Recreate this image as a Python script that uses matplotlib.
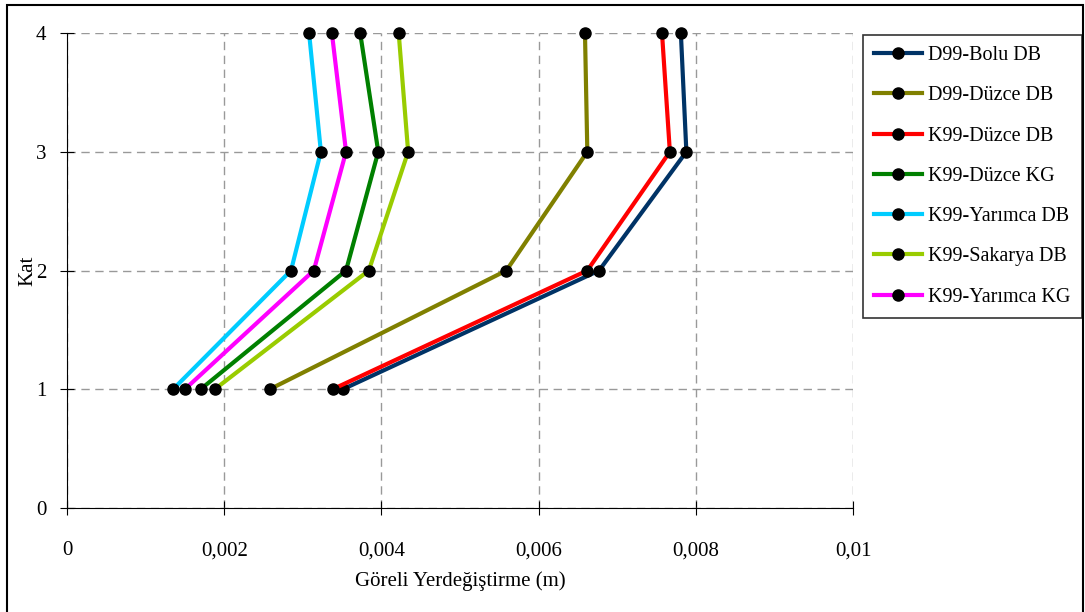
import numpy as np
import matplotlib.pyplot as plt
from matplotlib.patches import Rectangle

plt.rcParams['font.family'] = ['Liberation Serif', 'DejaVu Serif']

kat = [1, 2, 3, 4]

d99_bolu_db = [0.00351, 0.00677, 0.00788, 0.00781]
d99_duzce_db = [0.00258, 0.00559, 0.00662, 0.00659]
k99_duzce_db = [0.00338, 0.00662, 0.00767, 0.00757]
k99_duzce_kg = [0.00170, 0.00355, 0.00396, 0.00373]
k99_yarimca_db = [0.00135, 0.00285, 0.00323, 0.00308]
k99_sakarya_db = [0.00188, 0.00384, 0.00434, 0.00422]
k99_yarimca_kg = [0.00150, 0.00314, 0.00355, 0.00337]

series = [
    ("D99-Bolu DB", d99_bolu_db, "#003366"),
    ("D99-Düzce DB", d99_duzce_db, "#808000"),
    ("K99-Düzce DB", k99_duzce_db, "#FF0000"),
    ("K99-Düzce KG", k99_duzce_kg, "#008000"),
    ("K99-Yarımca DB", k99_yarimca_db, "#00CCFF"),
    ("K99-Sakarya DB", k99_sakarya_db, "#99CC00"),
    ("K99-Yarımca KG", k99_yarimca_kg, "#FF00FF"),
]

x_ticks = [0, 0.002, 0.004, 0.006, 0.008, 0.01]
x_tick_labels = ["0", "0,002", "0,004", "0,006", "0,008", "0,01"]

fig = plt.figure(figsize=(10.85, 6.12), dpi=100)
ax = fig.add_axes([67/1085, (612-508)/612, (853-67)/1085, (508-33)/612])

for name, vals, col in series:
    ax.plot(vals, kat, color=col, lw=3, marker='o', ms=8,
            mfc='black', mec='black', label=name, clip_on=False, zorder=3)

ax.set_xlim(0, 0.01)
ax.set_ylim(0, 4)
ax.set_xticks(x_ticks)
ax.set_xticklabels(x_tick_labels)
ax.set_yticks([0, 1, 2, 3, 4])
ax.grid(True, color='#999999', linestyle=(0, (6, 4)), lw=1)
ax.set_axisbelow(True)
for s in ['top', 'right']:
    ax.spines[s].set_visible(False)
ax.tick_params(direction='inout', length=10, labelsize=15)
ax.tick_params(axis='x', pad=19)
ax.tick_params(axis='y', pad=10)
ax.set_xlabel("Göreli Yerdeğiştirme (m)", fontsize=15, labelpad=8)
ax.set_ylabel("Kat", fontsize=15, labelpad=-1)

leg = ax.legend(loc='upper left', bbox_to_anchor=(863/1085, 1 - 35/612),
                bbox_transform=fig.transFigure, fontsize=14.5, frameon=True,
                fancybox=False, edgecolor='black', handlelength=2.4,
                labelspacing=1.05, borderpad=0.55, handletextpad=0.3,
                borderaxespad=0)
leg.get_frame().set_linewidth(1.2)

fig.patches.append(Rectangle((7/1085, -0.01), (1083-7)/1085, 1.01 - 5/612,
                             transform=fig.transFigure, fill=False,
                             edgecolor='black', lw=1.5))

fig.savefig("out.png", dpi=100)
